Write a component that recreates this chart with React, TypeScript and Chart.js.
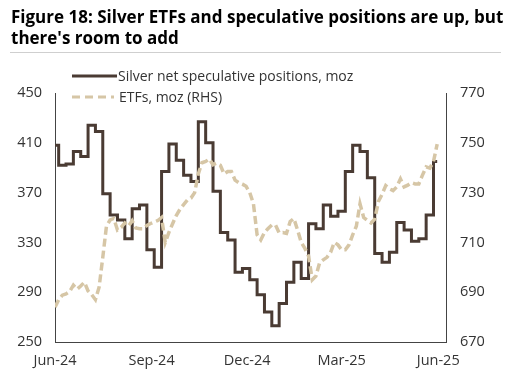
import React, { useEffect, useRef } from "react";
import { Chart, registerables } from "chart.js";

Chart.register(...registerables);

const titleText = "Figure 18: Silver ETFs and speculative positions are up, but there's room to add";
const seriesSpecName = "Silver net speculative positions, moz";
const seriesEtfName = "ETFs, moz (RHS)";

// x-axis: days since 1 Jun 2024
const xTickDays = [0, 92, 183, 273, 365];
const xTickLabels = ["Jun-24", "Sep-24", "Dec-24", "Mar-25", "Jun-25"];
const leftTicks = [250, 290, 330, 370, 410, 450];
const rightTicks = [670, 690, 710, 730, 750, 770];

// weekly net speculative positions (moz), one value per week from Jun-24
const specStepDays = 7;
const specValues = [
  408, 392, 393, 403, 399, 424, 419, 369, 352, 348, 333, 357, 360,
  324, 310, 387, 409, 396, 384, 379, 427, 410, 371, 338, 332, 306,
  309, 300, 288, 274, 263, 281, 298, 314, 301, 345, 341, 360, 351,
  355, 387, 408, 403, 382, 321, 314, 322, 346, 340, 331, 333, 352,
  395,
];

// ETF holdings (moz), sampled every half week from Jun-24
const etfStepDays = 3.5;
const etfValues = [
  684, 687, 688.8, 689.3, 690.3, 692.8, 691.2, 692.5, 694, 690.5,
  689, 687, 692, 704, 716.5, 719, 719.6, 715, 716, 717.8,
  716.5, 718.7, 715.8, 715.5, 715.5, 716.8, 717.6, 718.2, 718.8, 720,
  710, 714, 717.5, 720.8, 723.3, 725.2, 727, 727.8, 730, 737.5,
  742, 742.5, 743.5, 741.2, 741.8, 741, 737.5, 738.5, 738.5, 735,
  734, 733.4, 732.5, 730, 725.5, 713, 711, 714, 715.6, 717,
  717, 713.8, 714, 713.6, 718.4, 719.6, 715, 710, 707.6, 704.5,
  695, 696.5, 701.8, 703, 704, 706, 710, 709, 707, 707,
  709, 713, 716.5, 725.5, 720, 718.8, 717.8, 719.3, 726.4, 729.3,
  732.8, 731.5, 730.8, 732.3, 735.5, 732.3, 733, 734, 733.5, 733.5,
  737, 740.3, 739.8, 742.5, 749.5,
];

const darkColor = "#4a3b33";
const tanColor = "#d6c6a6";
const textColor = "#333333";
const fontFamily = "'Open Sans', 'Noto Sans', sans-serif";

export default function App() {
  const canvasRef = useRef<HTMLCanvasElement | null>(null);

  useEffect(() => {
    const canvas = canvasRef.current;
    if (!canvas) return;
    const specData = specValues.map((v, i) => ({ x: i * specStepDays, y: v }));
    const etfData = etfValues.map((v, i) => ({ x: i * etfStepDays, y: v }));

    const chart = new Chart(canvas, {
      type: "line",
      data: {
        datasets: [
          {
            label: seriesEtfName,
            data: etfData,
            yAxisID: "y1",
            borderColor: tanColor,
            borderWidth: 3.5,
            borderDash: [8, 4],
            pointRadius: 0,
            tension: 0,
            fill: false,
          },
          {
            label: seriesSpecName,
            data: specData,
            yAxisID: "y",
            borderColor: darkColor,
            borderWidth: 3,
            stepped: "middle",
            pointRadius: 0,
            fill: false,
          },
        ],
      },
      options: {
        animation: false,
        responsive: false,
        maintainAspectRatio: false,
        events: [],
        layout: { padding: { top: 93, left: 0, right: 0, bottom: 0 } },
        plugins: {
          legend: { display: false },
          title: { display: false },
          tooltip: { enabled: false },
        },
        scales: {
          x: {
            type: "linear",
            min: 0,
            max: 372.4,
            grid: { display: false, drawTicks: false },
            border: { display: true, color: "#444", width: 1 },
            afterBuildTicks: (axis: any) => {
              axis.ticks = xTickDays.map((d) => ({ value: d }));
            },
            afterFit: (axis: any) => {
              axis.height = 34;
            },
            ticks: {
              autoSkip: false,
              maxRotation: 0,
              padding: 10,
              color: textColor,
              font: { family: fontFamily, size: 14.5 },
              callback: (value: any) => {
                const idx = xTickDays.indexOf(Number(value));
                return idx >= 0 ? xTickLabels[idx] : "";
              },
            },
          },
          y: {
            type: "linear",
            position: "left",
            min: 250,
            max: 450,
            grid: { display: false, drawTicks: false },
            border: { display: true, color: "#444", width: 1 },
            afterBuildTicks: (axis: any) => {
              axis.ticks = leftTicks.map((v) => ({ value: v }));
            },
            afterFit: (axis: any) => {
              axis.width = 55;
            },
            ticks: {
              padding: 13,
              color: textColor,
              font: { family: fontFamily, size: 14.5 },
            },
          },
          y1: {
            type: "linear",
            position: "right",
            min: 670,
            max: 770,
            grid: { display: false, drawTicks: false },
            border: { display: true, color: "#444", width: 1 },
            afterBuildTicks: (axis: any) => {
              axis.ticks = rightTicks.map((v) => ({ value: v }));
            },
            afterFit: (axis: any) => {
              axis.width = 67;
            },
            ticks: {
              padding: 14,
              color: textColor,
              font: { family: fontFamily, size: 14.5 },
            },
          },
        },
      },
    });
    return () => chart.destroy();
  }, []);

  return (
    <div style={{ position: "absolute", left: 0, top: 0, width: 513, height: 376, background: "#fff", overflow: "hidden" }}>
      <canvas ref={canvasRef} width={513} height={376} style={{ position: "absolute", left: 0, top: 0, width: 513, height: 376 }} />
      <div
        style={{
          position: "absolute",
          left: 11,
          top: 6,
          width: 495,
          fontFamily: fontFamily,
          fontWeight: 700,
          fontSize: 17,
          lineHeight: "21px",
          color: "#000",
        }}
      >
        {titleText}
      </div>
      <div style={{ position: "absolute", left: 10, top: 52, width: 491, height: 1, background: "#cfcfcf" }} />
      <div style={{ position: "absolute", left: 72, top: 65, fontFamily: fontFamily, fontSize: 14, color: textColor, lineHeight: "21px" }}>
        <div style={{ display: "flex", alignItems: "center" }}>
          <svg width={46} height={10} style={{ display: "block" }}>
            <line x1={0} y1={5} x2={45} y2={5} stroke={darkColor} strokeWidth={3} />
          </svg>
          <span style={{ marginLeft: 0 }}>{seriesSpecName}</span>
        </div>
        <div style={{ display: "flex", alignItems: "center" }}>
          <svg width={46} height={10} style={{ display: "block" }}>
            <line x1={0} y1={5} x2={42} y2={5} stroke={tanColor} strokeWidth={3} strokeDasharray="8 5" />
          </svg>
          <span style={{ marginLeft: 1 }}>{seriesEtfName}</span>
        </div>
      </div>
    </div>
  );
}
